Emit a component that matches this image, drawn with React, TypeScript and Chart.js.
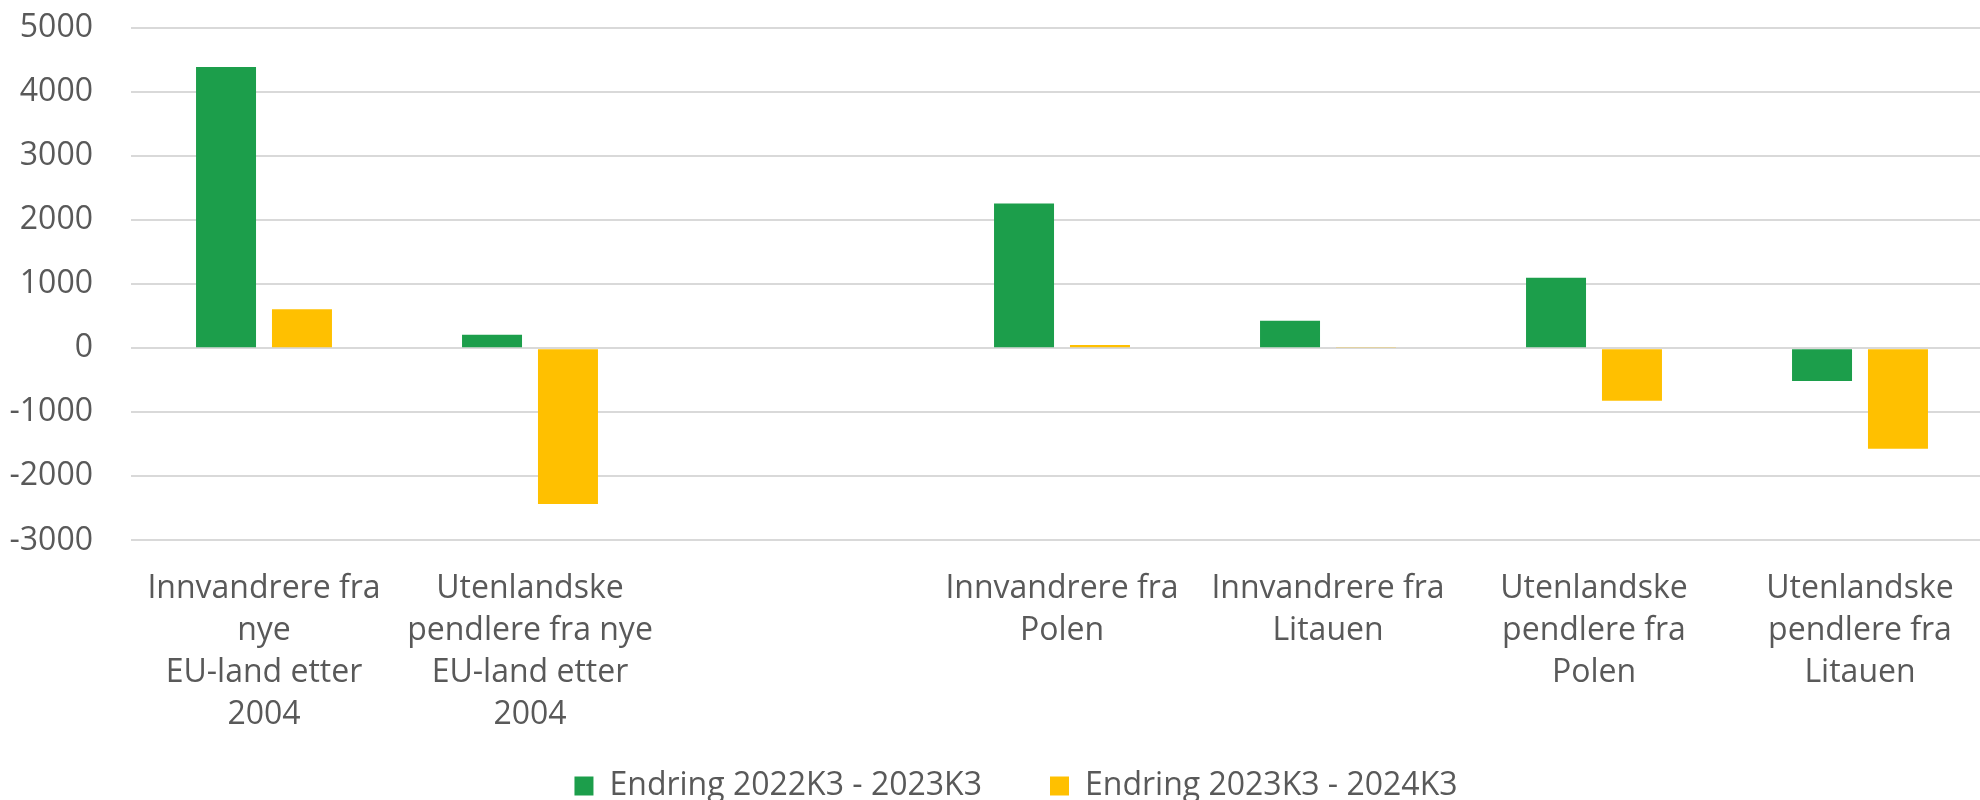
import React, { useEffect, useRef } from "react";
import { Chart, registerables } from "chart.js";

Chart.register(...registerables);

const categories: (string | string[])[] = [
  ["Innvandrere fra", "nye", "EU-land etter", "2004"],
  ["Utenlandske", "pendlere fra nye", "EU-land etter", "2004"],
  "",
  ["Innvandrere fra", "Polen"],
  ["Innvandrere fra", "Litauen"],
  ["Utenlandske", "pendlere fra", "Polen"],
  ["Utenlandske", "pendlere fra", "Litauen"],
];

const series1Label = "Endring 2022K3 - 2023K3";
const series2Label = "Endring 2023K3 - 2024K3";
const series1: (number | null)[] = [4390, 210, null, 2260, 430, 1100, -510];
const series2: (number | null)[] = [610, -2430, null, 50, 10, -820, -1570];

const yMin = -3000;
const yMax = 5000;
const yStep = 1000;

const plotOverflowRight = 13;

const layoutTweaks = {
  id: "layoutTweaks",
  afterLayout(chart: any) {
    const l = chart.legend;
    if (l) {
      l.left += 26;
      l.right += 26;
    }
    const area = chart.chartArea;
    area.right += plotOverflowRight;
    area.width = area.right - area.left;
    const x = chart.scales.x;
    if (x) {
      x.right += plotOverflowRight;
      x.width = x.right - x.left;
      x.bottom = chart.height;
      x.height = x.bottom - x.top;
      x.configure();
    }
    const y = chart.scales.y;
    if (y) {
      y.configure();
    }
  },
};

export default function App() {
  const ref = useRef<HTMLCanvasElement | null>(null);
  useEffect(() => {
    if (!ref.current) return;
    const font = "'Open Sans', 'Noto Sans', sans-serif";
    const chart = new Chart(ref.current, {
      type: "bar",
      data: {
        labels: categories,
        datasets: [
          {
            label: series1Label,
            data: series1,
            backgroundColor: "#1C9E4B",
            categoryPercentage: 0.571,
            barPercentage: 0.79,
          },
          {
            label: series2Label,
            data: series2,
            backgroundColor: "#FFC000",
            categoryPercentage: 0.571,
            barPercentage: 0.79,
          },
        ],
      },
      plugins: [layoutTweaks],
      options: {
        animation: false,
        responsive: false,
        maintainAspectRatio: false,
        layout: { padding: { top: 28, left: 0, right: 0, bottom: -12 } },
        plugins: {
          tooltip: { enabled: false },
          legend: {
            position: "bottom",
            labels: {
              boxWidth: 19,
              boxHeight: 19,
              padding: 68,
              color: "#595959",
              font: { family: font, size: 32 },
            },
          },
        },
        scales: {
          x: {
            grid: { display: false, drawTicks: false },
            border: { display: false },
            ticks: {
              color: "#595959",
              font: { family: font, size: 32, lineHeight: 1.31 },
              maxRotation: 0,
              minRotation: 0,
              autoSkip: false,
              padding: 28,
            },
            afterFit(scale: any) {
              scale.height = 161.6;
              scale.paddingLeft = 0;
              scale.paddingRight = 0;
            },
          },
          y: {
            min: yMin,
            max: yMax,
            grid: { color: "#D9D9D9", lineWidth: 2, drawTicks: false },
            border: { display: false },
            ticks: {
              stepSize: yStep,
              color: "#595959",
              font: { family: font, size: 32 },
              padding: 38,
              callback: (v: any) => String(v),
            },
            afterFit(scale: any) {
              scale.width = 131;
              scale.paddingTop = 0;
              scale.paddingBottom = 0;
            },
          },
        },
      },
    });
    return () => chart.destroy();
  }, []);
  return (
    <div style={{ position: "fixed", left: 0, top: 0, width: 1980, height: 800, background: "#fff" }}>
      <canvas ref={ref} width={1980} height={800} style={{ width: 1980, height: 800 }} />
    </div>
  );
}
